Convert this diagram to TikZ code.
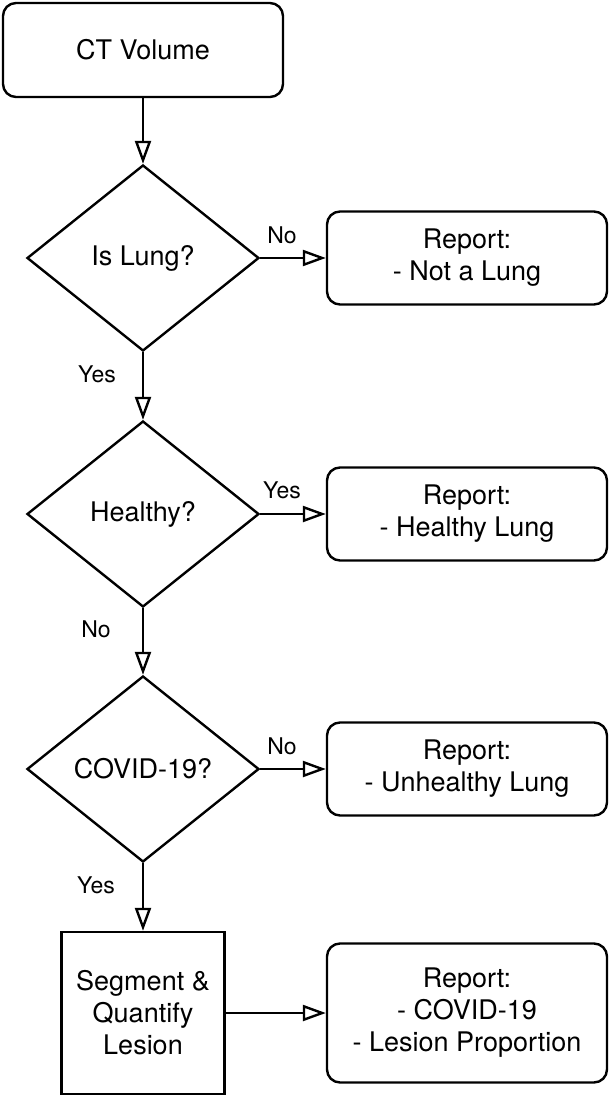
\documentclass[tikz,border=0pt]{standalone}
\usepackage{fontspec}
\setmainfont{TeX Gyre Heros}
\usetikzlibrary{arrows.meta,shapes.geometric}

\begin{document}
\begin{tikzpicture}[
  x=0.5pt, y=-0.5pt,
  font=\fontsize{13.5}{16}\selectfont,
  startbox/.style={draw, line width=1.2pt, rounded corners=6.5pt, minimum width=140pt, minimum height=47pt, align=center},
  decision/.style={draw, line width=1.2pt, diamond, aspect=1.25, inner sep=0pt, minimum width=116pt, minimum height=93pt, align=center},
  process/.style={draw, line width=1.2pt, minimum width=81.5pt, minimum height=81pt, align=center},
  report/.style={draw, line width=1.2pt, rounded corners=6.5pt, minimum width=140pt, minimum height=46.5pt, align=center},
  answer/.style={inner sep=0pt, font=\fontsize{11.5}{14}\selectfont},
  arr/.style={-{Triangle[open, length=11.5pt, width=8pt]}, line width=1.2pt}
]
\useasboundingbox (0,0) rectangle (611,1098);

\node[startbox] (ct) at (143,50) {CT Volume};
\node[decision] (lung) at (143,258) {Is Lung?};
\node[decision] (healthy) at (143,514) {Healthy?};
\node[decision] (covid) at (143,769) {COVID-19?};
\node[process] (seg) at (143,1013) {Segment \&\\Quantify\\Lesion};

\node[report] (rlung) at (467,258) {Report:\\- Not a Lung};
\node[report] (rhealthy) at (467,514) {Report:\\- Healthy Lung};
\node[report] (runhealthy) at (467,769) {Report:\\- Unhealthy Lung};
\node[report, minimum height=69.5pt] (rcovid) at (467,1013) {Report:\\- COVID-19\\- Lesion Proportion};

\node[answer] (nolung) at (282,235) {No};
\node[answer] (yeslung) at (97,374) {Yes};
\node[answer] (yeshealthy) at (282,490) {Yes};
\node[answer] (nohealthy) at (96,629) {No};
\node[answer] (nocovid) at (282,746) {No};
\node[answer] (yescovid) at (96,885) {Yes};

\draw[arr] (ct) -- (lung);
\draw[arr] (lung) -- (healthy);
\draw[arr] (healthy) -- (covid);
\draw[arr] (covid) -- (seg);
\draw[arr] (lung) -- (rlung);
\draw[arr] (healthy) -- (rhealthy);
\draw[arr] (covid) -- (runhealthy);
\draw[arr] (seg) -- (rcovid);
\end{tikzpicture}
\end{document}
